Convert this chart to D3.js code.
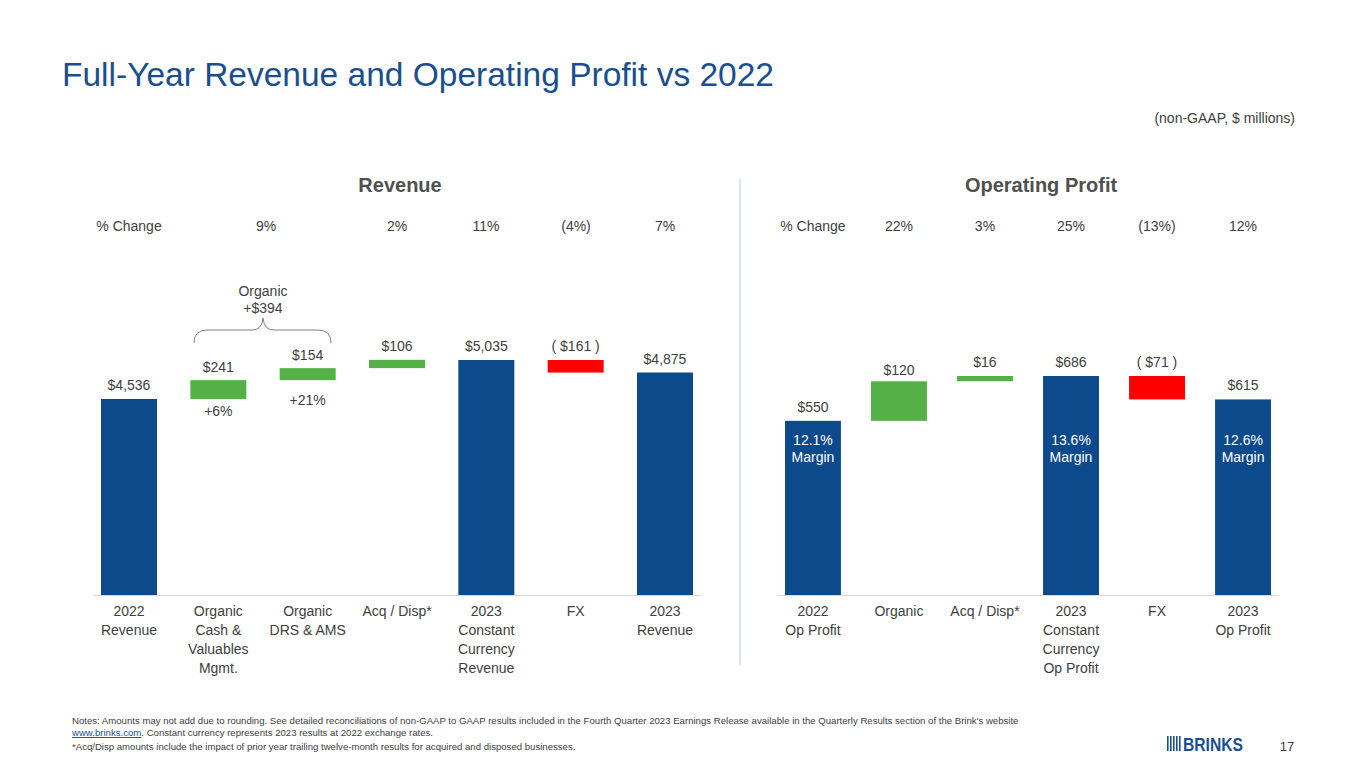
<!DOCTYPE html><html><head><meta charset="utf-8"><script src="https://cdn.jsdelivr.net/npm/d3@7"></script>
<style>body{margin:0;background:#fff;font-family:Arial,"Liberation Sans",sans-serif}</style></head><body>
<svg id="c" width="1365" height="768"></svg>
<script>
const revCats=[["2022","Revenue"],["Organic","Cash &","Valuables","Mgmt."],["Organic","DRS & AMS"],["Acq / Disp*"],["2023","Constant","Currency","Revenue"],["FX"],["2023","Revenue"]];
const revVals=[4536,241,154,106,5035,-161,4875];
const revTypes=["total","delta","delta","delta","total","delta","total"];
const revLabels=["$4,536","$241","$154","$106","$5,035","( $161 )","$4,875"];
const revPct=["9%","2%","11%","(4%)","7%"];
const opCats=[["2022","Op Profit"],["Organic"],["Acq / Disp*"],["2023","Constant","Currency","Op Profit"],["FX"],["2023","Op Profit"]];
const opVals=[550,120,16,686,-71,615];
const opTypes=["total","delta","delta","total","delta","total"];
const opLabels=["$550","$120","$16","$686","( $71 )","$615"];
const opPct=["22%","3%","25%","(13%)","12%"];
const opMargins=["12.1%","","","13.6%","","12.6%"];
const BLUE="#0c4a8c",GREEN="#55b047",RED="#ff0000";
const svg=d3.select("#c");
function T(x,y,t,o={}){return svg.append("text").attr("x",x).attr("y",y).text(t).attr("font-size",o.s||14).attr("fill",o.f||"#404040").attr("text-anchor",o.a||"middle").attr("font-weight",o.w||"normal");}
T(62,86,"Full-Year Revenue and Operating Profit vs 2022",{s:33.5,f:"#1a4f8f",a:"start"});
T(1295,123,"(non-GAAP, $ millions)",{s:14,a:"end"});
svg.append("line").attr("x1",740).attr("x2",740).attr("y1",178).attr("y2",665).attr("stroke","#cfe0f0").attr("stroke-width",1.5);
function panel(cats,vals,types,labels,pct,x0,x1,pi,domain,title,titleX,pctX,margins,labelOff){
  const x=d3.scaleBand().domain(d3.range(cats.length)).range([x0,x1]).paddingInner(pi).paddingOuter(0);
  const yy=v=>595-(v-domain[0])*(595-domain[2])/(domain[1]-domain[0]);
  T(titleX,192,title,{s:20,w:"bold",f:"#505050"});
  T(x(0)+x.bandwidth()/2,231,"% Change",{s:14});
  let run=0;
  vals.forEach((v,i)=>{
    let top,bot,col;
    if(types[i]==="total"){run=v;top=yy(v);bot=595;col=BLUE;}
    else{const a=run,b=run+v;run=b;top=yy(Math.max(a,b));bot=yy(Math.min(a,b));col=v<0?RED:GREEN;}
    svg.append("rect").attr("x",x(i)).attr("y",top).attr("width",x.bandwidth()).attr("height",bot-top).attr("fill",col);
    const cx=x(i)+x.bandwidth()/2;
    T(cx,top-(labelOff[i]||9),labels[i],{s:14});
    cats[i].forEach((l,j)=>T(cx,616+j*19,l,{s:14}));
    if(i>0&&pct[i-1])T(pctX?pctX[i-1]:cx,231,pct[i-1],{s:14});
    if(margins&&margins[i]){T(cx,445,margins[i],{s:14,f:"#fff"});T(cx,462,"Margin",{s:14,f:"#fff"});}
  });
  svg.append("line").attr("x1",x0-8).attr("x2",x1+8).attr("y1",595.5).attr("y2",595.5).attr("stroke","#d9d9d9");
  return x;
}
const xr=panel(revCats,revVals,revTypes,revLabels,revPct,101,693,0.373,[2028,5035,360],"Revenue",400,[266,397,486,576,665],null,{1:8,2:8});
T(xr(1)+xr.bandwidth()/2,416,"+6%",{s:14});
T(xr(2)+xr.bandwidth()/2,405,"+21%",{s:14});
T(263,296,"Organic",{s:14});T(263,313,"+$394",{s:14});
svg.append("path").attr("d","M194,343 Q194,330 207,330 L252,330 Q262,330 263,318 Q264,330 274,330 L318,330 Q331,330 331,343").attr("fill","none").attr("stroke","#808080");
panel(opCats,opVals,opTypes,opLabels,opPct,785,1271,0.35,[22,686,376],"Operating Profit",1041,null,opMargins,{1:6});
svg.append("text").attr("x",72).attr("y",724).attr("font-size",9.6).attr("fill","#404040").text("Notes: Amounts may not add due to rounding. See detailed reconciliations of non-GAAP to GAAP results included in the Fourth Quarter 2023 Earnings Release available in the Quarterly Results section of the Brink's website");
const t2=svg.append("text").attr("x",72).attr("y",736).attr("font-size",9.6).attr("fill","#404040");
t2.append("tspan").attr("fill","#1a4f8f").attr("text-decoration","underline").text("www.brinks.com");
t2.append("tspan").text(". Constant currency represents 2023 results at 2022 exchange rates.");
svg.append("text").attr("x",72).attr("y",750).attr("font-size",9.6).attr("fill","#404040").text("*Acq/Disp amounts include the impact of prior year trailing twelve-month results for acquired and disposed businesses.");
d3.range(5).forEach(i=>svg.append("rect").attr("x",1167+i*3).attr("y",736).attr("width",1.6).attr("height",15).attr("fill","#1a4f8f"));
T(1183,751,"BRINKS",{s:18,w:"bold",f:"#1a4f8f",a:"start"}).attr("textLength",60).attr("lengthAdjust","spacingAndGlyphs");
T(1287,751,"17",{s:13,f:"#404040"});
</script></body></html>
